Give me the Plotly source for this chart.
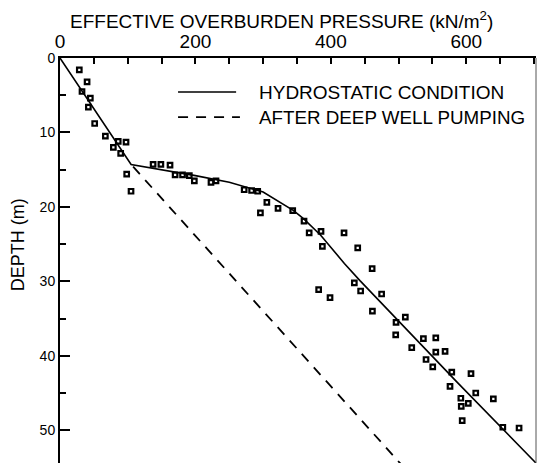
import plotly.graph_objects as go

# Measured points: effective overburden pressure (kN/m2) vs depth (m)
pressure_pts = [28.5, 40, 32.5, 44.8, 41.9, 51.2, 67, 86, 97.5, 78.8, 89.6, 98.5, 104.9,
                137.5, 149, 162.5, 170, 181, 191, 198.4, 223, 230.4, 272, 283, 292,
                305.5, 296, 322, 343.7, 360.4, 368, 385.5, 419.5, 387.5, 439.7, 461,
                434.7, 444, 475, 382, 398.8, 461.4, 496.3, 510, 495.8, 536.7, 555,
                519.5, 555, 568.7, 540.6, 550.5, 578.6, 607, 576, 614, 640, 592,
                592.6, 603, 594, 654, 678]
depth_pts = [1.6, 3.2, 4.5, 5.4, 6.6, 8.8, 10.5, 11.2, 11.3, 12.0, 12.8, 15.6, 17.9,
             14.3, 14.3, 14.4, 15.7, 15.7, 15.8, 16.5, 16.7, 16.5, 17.7, 17.8, 17.9,
             19.4, 20.8, 20.2, 20.5, 21.9, 23.5, 23.3, 23.5, 25.3, 25.5, 28.3,
             30.2, 31.3, 31.7, 31.1, 32.2, 34.0, 35.5, 34.8, 37.2, 37.7, 37.6,
             38.9, 39.5, 39.4, 40.5, 41.5, 42.2, 42.4, 44.1, 45.0, 45.8, 45.7,
             46.8, 46.4, 48.7, 49.6, 49.7]

# Hydrostatic condition curve
hydro_pressure = [0, 105, 200, 250, 300, 320, 345, 360, 385, 420, 443, 586, 704]
hydro_depth = [0, 14.3, 15.8, 16.7, 18.0, 19.1, 20.5, 21.6, 23.8, 27.6, 29.9, 43.5, 54.5]

# After deep well pumping curve
pump_pressure = [108, 503]
pump_depth = [14.6, 54.5]

x_ticks = [0, 200, 400, 600]
y_ticks = [0, 10, 20, 30, 40, 50]

FONT = "Liberation Sans, Arial, sans-serif"

fig = go.Figure()
fig.add_trace(go.Scatter(x=hydro_pressure, y=hydro_depth, mode="lines",
                         line=dict(color="black", width=1.6), showlegend=False))
fig.add_trace(go.Scatter(x=pump_pressure, y=pump_depth, mode="lines",
                         line=dict(color="black", width=1.8, dash="10px,8px"),
                         showlegend=False))
fig.add_trace(go.Scatter(x=pressure_pts, y=depth_pts, mode="markers",
                         marker=dict(symbol="square-open", size=4.5, color="black",
                                     line=dict(width=2.2, color="black")),
                         showlegend=False))

fig.update_xaxes(side="top", range=[0, 703], tickvals=x_ticks, ticks="inside",
                 ticklen=6, tickwidth=1.5, tickcolor="black",
                 minor=dict(dtick=50, ticks="inside", ticklen=6, tickwidth=1.5, tickcolor="black"),
                 showline=True, linewidth=2, linecolor="black", showgrid=False,
                 zeroline=False, tickfont=dict(family=FONT, size=19, color="black"))
fig.update_yaxes(range=[54.4, 0], tickvals=y_ticks, ticks="inside", ticklen=10,
                 tickwidth=1.5, tickcolor="black",
                 minor=dict(dtick=5, ticks="inside", ticklen=6, tickwidth=1.5, tickcolor="black"),
                 showline=True, linewidth=2, linecolor="black", showgrid=False,
                 zeroline=False, tickfont=dict(family=FONT, size=14, color="black"))

annotations = [
    dict(text="EFFECTIVE OVERBURDEN PRESSURE (kN/m<sup>2</sup>)", xref="paper", yref="paper",
         x=0.466, y=1.094, xanchor="center", yanchor="middle", showarrow=False,
         font=dict(family=FONT, size=19, color="black")),
    dict(text="DEPTH (m)", xref="paper", yref="paper", x=-0.088, y=0.538,
         xanchor="center", yanchor="middle", textangle=-90, showarrow=False,
         font=dict(family=FONT, size=18, color="black")),
    dict(text="HYDROSTATIC CONDITION", xref="paper", yref="paper", x=0.414, y=0.916,
         xanchor="left", yanchor="middle", showarrow=False,
         font=dict(family=FONT, size=19, color="black")),
    dict(text="AFTER DEEP WELL PUMPING", xref="paper", yref="paper", x=0.414, y=0.854,
         xanchor="left", yanchor="middle", showarrow=False,
         font=dict(family=FONT, size=18.8, color="black")),
]
shapes = [
    dict(type="line", xref="paper", yref="paper", x0=0.248, x1=0.370, y0=0.916, y1=0.916,
         line=dict(color="black", width=1.6)),
    dict(type="line", xref="paper", yref="paper", x0=0.248, x1=0.378, y0=0.854, y1=0.854,
         line=dict(color="black", width=1.8, dash="10px,8px")),
    dict(type="line", xref="paper", yref="paper", x0=1, x1=1, y0=0, y1=1,
         line=dict(color="#555555", width=1)),
]

fig.update_layout(width=537, height=463, margin=dict(l=60, r=1, t=58, b=0),
                  paper_bgcolor="white", plot_bgcolor="white",
                  annotations=annotations, shapes=shapes, showlegend=False)

fig.write_html("out.html", config={"displayModeBar": False},
               post_script="document.body.style.margin='0';document.body.style.overflow='hidden';")
